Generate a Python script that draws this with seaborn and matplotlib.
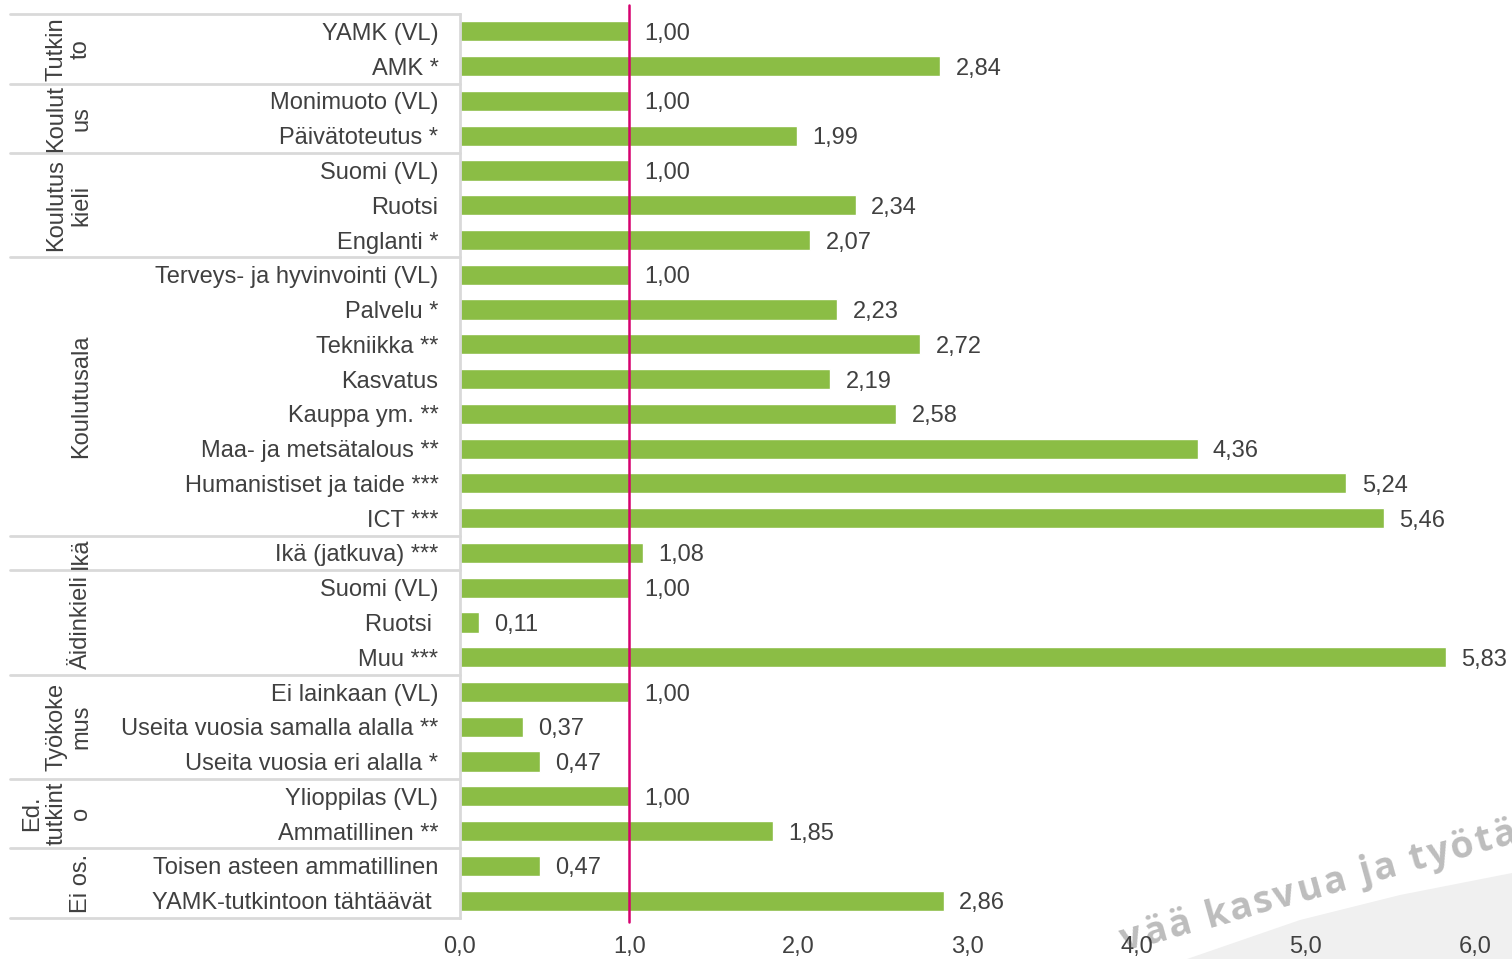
import numpy as np
import pandas as pd
import matplotlib
matplotlib.use('Agg')
import matplotlib.pyplot as plt
from matplotlib.patches import Polygon
import seaborn as sns

# Data
labels = ['YAMK (VL)', 'AMK *',
          'Monimuoto (VL)', 'Päivätoteutus *',
          'Suomi (VL)', 'Ruotsi', 'Englanti *',
          'Terveys- ja hyvinvointi (VL)', 'Palvelu *', 'Tekniikka **', 'Kasvatus',
          'Kauppa ym. **', 'Maa- ja metsätalous **', 'Humanistiset ja taide ***', 'ICT ***',
          'Ikä (jatkuva) ***',
          'Suomi (VL)', 'Ruotsi ', 'Muu ***',
          'Ei lainkaan (VL)', 'Useita vuosia samalla alalla **', 'Useita vuosia eri alalla *',
          'Ylioppilas (VL)', 'Ammatillinen **',
          'Toisen asteen ammatillinen', 'YAMK-tutkintoon tähtäävät ']
values = [1.00, 2.84,
          1.00, 1.99,
          1.00, 2.34, 2.07,
          1.00, 2.23, 2.72, 2.19, 2.58, 4.36, 5.24, 5.46,
          1.08,
          1.00, 0.11, 5.83,
          1.00, 0.37, 0.47,
          1.00, 1.85,
          0.47, 2.86]
group_names = ['Tutkin\nto', 'Koulut\nus', 'Koulutus\nkieli', 'Koulutusala', 'Ikä',
               'Äidinkieli', 'Työkoke\nmus', 'Ed.\ntutkint\no', 'Ei os.']
group_sizes = [2, 2, 3, 8, 1, 3, 3, 2, 2]
x_ticks = [0, 1, 2, 3, 4, 5, 6]
ref_value = 1.0
watermark = 'vää kasvua ja työtä'

bar_color = '#8BBD45'
text_color = '#404040'
line_gray = '#D9D9D9'
W, H = 1512, 959

sns.set_theme(style='white')
plt.rcParams['font.family'] = ['Liberation Sans', 'DejaVu Sans']

df = pd.DataFrame({'row': [str(i) for i in range(len(values))], 'value': values})

fig = plt.figure(figsize=(W / 100, H / 100), dpi=100)
ax = fig.add_axes([460 / W, 1 - 918 / H, (1475 - 460) / W, (918 - 14) / H])
ax.patch.set_alpha(0)

sns.barplot(data=df, x='value', y='row', orient='h', color=bar_color,
            width=0.58, saturation=1, ax=ax)

ax.set_xlim(0, 6)
ax.set_ylim(len(values) - 0.5, -0.5)
ax.set_xticks(x_ticks)
ax.set_xticklabels([f'{t:.1f}'.replace('.', ',') for t in x_ticks])
ax.set_yticks(range(len(labels)))
ax.set_yticklabels(labels)
ax.tick_params(axis='y', length=0, pad=15.5, labelsize=17, labelcolor=text_color)
ax.tick_params(axis='x', length=0, pad=13, labelsize=17, labelcolor=text_color)
ax.set_xlabel('')
ax.set_ylabel('')
for s in ['top', 'right', 'bottom']:
    ax.spines[s].set_visible(False)
ax.spines['left'].set_color(line_gray)
ax.spines['left'].set_linewidth(2)

# value labels
for i, v in enumerate(values):
    ax.annotate(f'{v:.2f}'.replace('.', ','), xy=(v, i), xytext=(11, 0),
                textcoords='offset points', va='center_baseline', ha='left',
                fontsize=17, color=text_color)

# reference line
ax.axvline(ref_value, ymin=-0.004, ymax=1.01, color='#D6006F', lw=1.8,
           clip_on=False, zorder=5)

# group separators and group labels
bounds = np.concatenate([[0], np.cumsum(group_sizes)]) - 0.5
x_left = (10 - 460) / (1475 - 460) * 6
for b in bounds:
    ax.plot([x_left, 0], [b, b], color=line_gray, lw=2, clip_on=False)
for name, lo, hi in zip(group_names, bounds[:-1], bounds[1:]):
    ax.text((92 - 460) / (1475 - 460) * 6, (lo + hi) / 2, name, rotation=90,
            ha='right', va='center', multialignment='center',
            fontsize=17, color=text_color, linespacing=1.15, clip_on=False)

# watermark in the corner: light swoosh + tilted slogan
wedge = Polygon([[1187 / W, 0], [1300 / W, 1 - 920 / H], [1400 / W, 1 - 895 / H],
                 [1, 1 - 873 / H], [1, 0]], closed=True,
                facecolor='#F0F0F0', edgecolor='none', transform=fig.transFigure, zorder=-2)
fig.patches.append(wedge)

renderer = fig.canvas.get_renderer()
wm_kw = dict(fontsize=27, fontweight='bold', family=['Open Sans', 'DejaVu Sans'],
             color='#BDBDBD')
angle = np.deg2rad(15.5)
px, py = 1124.0, 951.0
for ch in watermark:
    if ch == ' ':
        adv = 10
    else:
        fig.text(px / W, 1 - py / H, ch, rotation=15.5, rotation_mode='anchor',
                 ha='left', va='baseline', zorder=-1, **wm_kw)
        tmp = fig.text(0, 0, ch, **wm_kw)
        adv = tmp.get_window_extent(renderer).width
        tmp.remove()
    adv += 2.5
    px += adv * np.cos(angle)
    py -= adv * np.sin(angle)

fig.savefig('out.png', dpi=100)
